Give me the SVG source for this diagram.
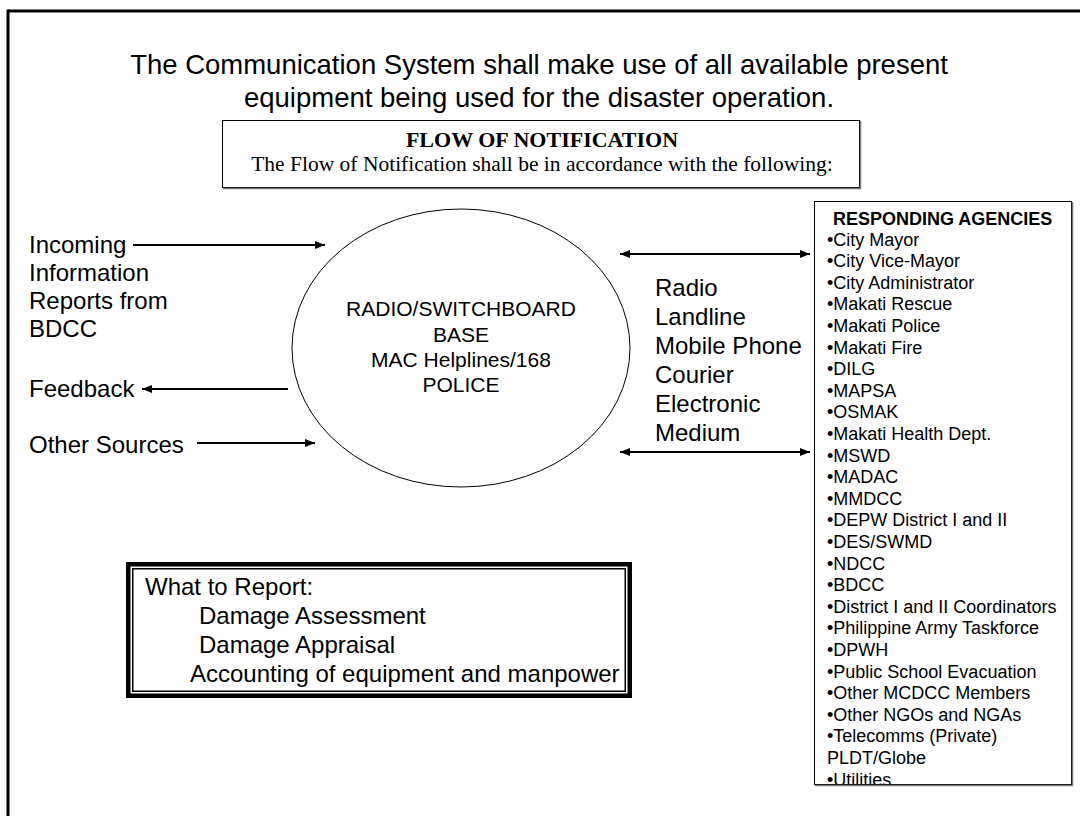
<svg xmlns="http://www.w3.org/2000/svg" width="1080" height="816" viewBox="0 0 1080 816">
  <defs>
    <marker id="arrow" viewBox="0 0 10 8" refX="10" refY="4" markerWidth="10" markerHeight="8" markerUnits="userSpaceOnUse" orient="auto-start-reverse">
      <path d="M0,0 L10,4 L0,8 z" fill="#000"/>
    </marker>
    <clipPath id="agency-clip">
      <rect x="814" y="201" width="258" height="583"/>
    </clipPath>
  </defs>
  <style>
    .sans { font-family: "Liberation Sans", Arial, sans-serif; fill: #000; }
    .serif { font-family: "Liberation Serif", "Times New Roman", serif; fill: #000; }
    .flow { stroke: #000; stroke-width: 2; fill: none; }
    .box { fill: #fff; stroke: #000; stroke-width: 1; }
    .shade { stroke: #777; stroke-width: 1.5; fill: none; }
  </style>

  <rect x="0" y="0" width="1080" height="816" fill="#fff"/>

  <!-- page frame: top and left rules -->
  <g id="frame">
    <line x1="8" y1="11" x2="1080" y2="11" stroke="#000" stroke-width="3"/>
    <line x1="8" y1="9.5" x2="8" y2="816" stroke="#000" stroke-width="3"/>
  </g>

  <!-- heading statement -->
  <g id="title">
    <text class="sans" x="539" y="74" font-size="27.5" text-anchor="middle">The Communication System shall make use of all available present</text>
    <text class="sans" x="539" y="107" font-size="27.5" text-anchor="middle">equipment being used for the disaster operation.</text>
  </g>

  <!-- flow of notification banner -->
  <g id="flow-box">
    <rect class="box" x="222.5" y="120.5" width="637" height="67"/>
    <polyline class="shade" points="223,188.5 860.5,188.5 860.5,121"/>
    <text class="serif" x="542" y="147" font-size="22" font-weight="bold" text-anchor="middle">FLOW OF NOTIFICATION</text>
    <text class="serif" x="542" y="171" font-size="21.5" text-anchor="middle">The Flow of Notification shall be in accordance with the following:</text>
  </g>

  <!-- sources on the left -->
  <g id="sources">
    <text class="sans" x="29" y="253" font-size="24">Incoming</text>
    <text class="sans" x="29" y="281" font-size="24">Information</text>
    <text class="sans" x="29" y="309" font-size="24">Reports from</text>
    <text class="sans" x="29" y="337" font-size="24">BDCC</text>
  </g>
  <g id="feedback">
    <text class="sans" x="29" y="397" font-size="24">Feedback</text>
  </g>
  <g id="other-sources">
    <text class="sans" x="29" y="453" font-size="24">Other Sources</text>
  </g>

  <!-- central base -->
  <g id="base">
    <ellipse cx="461" cy="348" rx="169" ry="139" fill="#fff" stroke="#000" stroke-width="1"/>
    <text class="sans" x="461" y="316" font-size="21" text-anchor="middle">RADIO/SWITCHBOARD</text>
    <text class="sans" x="461" y="342" font-size="21" text-anchor="middle">BASE</text>
    <text class="sans" x="461" y="367" font-size="21" text-anchor="middle">MAC Helplines/168</text>
    <text class="sans" x="461" y="392" font-size="21" text-anchor="middle">POLICE</text>
  </g>

  <!-- communication media -->
  <g id="media">
    <text class="sans" font-size="24">
      <tspan x="655" y="296">Radio</tspan>
      <tspan x="655" y="325">Landline</tspan>
      <tspan x="655" y="354">Mobile Phone</tspan>
      <tspan x="655" y="383">Courier</tspan>
      <tspan x="655" y="412">Electronic</tspan>
      <tspan x="655" y="441">Medium</tspan>
    </text>
  </g>

  <!-- responding agencies list -->
  <g id="agencies">
    <rect class="box" x="814.5" y="201.5" width="257" height="583"/>
    <polyline class="shade" points="815,785.5 1072.5,785.5 1072.5,202"/>
    <text class="sans" x="833" y="225" font-size="18" font-weight="bold">RESPONDING AGENCIES</text>
    <g clip-path="url(#agency-clip)">
      <text class="sans" font-size="18">
        <tspan x="827" y="245.5">•City Mayor</tspan>
        <tspan x="827" dy="21.6">•City Vice-Mayor</tspan>
        <tspan x="827" dy="21.6">•City Administrator</tspan>
        <tspan x="827" dy="21.6">•Makati Rescue</tspan>
        <tspan x="827" dy="21.6">•Makati Police</tspan>
        <tspan x="827" dy="21.6">•Makati Fire</tspan>
        <tspan x="827" dy="21.6">•DILG</tspan>
        <tspan x="827" dy="21.6">•MAPSA</tspan>
        <tspan x="827" dy="21.6">•OSMAK</tspan>
        <tspan x="827" dy="21.6">•Makati Health Dept.</tspan>
        <tspan x="827" dy="21.6">•MSWD</tspan>
        <tspan x="827" dy="21.6">•MADAC</tspan>
        <tspan x="827" dy="21.6">•MMDCC</tspan>
        <tspan x="827" dy="21.6">•DEPW District I and II</tspan>
        <tspan x="827" dy="21.6">•DES/SWMD</tspan>
        <tspan x="827" dy="21.6">•NDCC</tspan>
        <tspan x="827" dy="21.6">•BDCC</tspan>
        <tspan x="827" dy="21.6">•District I and II Coordinators</tspan>
        <tspan x="827" dy="21.6">•Philippine Army Taskforce</tspan>
        <tspan x="827" dy="21.6">•DPWH</tspan>
        <tspan x="827" dy="21.6">•Public School Evacuation</tspan>
        <tspan x="827" dy="21.6">•Other MCDCC Members</tspan>
        <tspan x="827" dy="21.6">•Other NGOs and NGAs</tspan>
        <tspan x="827" dy="21.6">•Telecomms (Private)</tspan>
        <tspan x="827" dy="21.6">PLDT/Globe</tspan>
        <tspan x="827" dy="21.6">•Utilities</tspan>
      </text>
    </g>
  </g>

  <!-- what to report panel, thick-thin double border -->
  <g id="report">
    <rect x="128.25" y="564.25" width="501.5" height="131.5" fill="#fff" stroke="#000" stroke-width="4.5"/>
    <rect x="132.75" y="568.75" width="492.5" height="122.5" fill="none" stroke="#000" stroke-width="1.5"/>
    <text class="sans" x="145" y="595" font-size="24">What to Report:</text>
    <text class="sans" x="199" y="624" font-size="24">Damage Assessment</text>
    <text class="sans" x="199" y="653" font-size="24">Damage Appraisal</text>
    <text class="sans" x="190" y="682" font-size="24">Accounting of equipment and manpower</text>
  </g>

  <!-- connectors -->
  <g id="connectors" class="flow">
    <line x1="133" y1="245" x2="325" y2="245" marker-end="url(#arrow)"/>
    <line x1="288" y1="389" x2="142" y2="389" marker-end="url(#arrow)"/>
    <line x1="197" y1="443" x2="315" y2="443" marker-end="url(#arrow)"/>
    <line x1="620" y1="254" x2="810" y2="254" marker-start="url(#arrow)" marker-end="url(#arrow)"/>
    <line x1="620" y1="452" x2="810" y2="452" marker-start="url(#arrow)" marker-end="url(#arrow)"/>
  </g>
</svg>
